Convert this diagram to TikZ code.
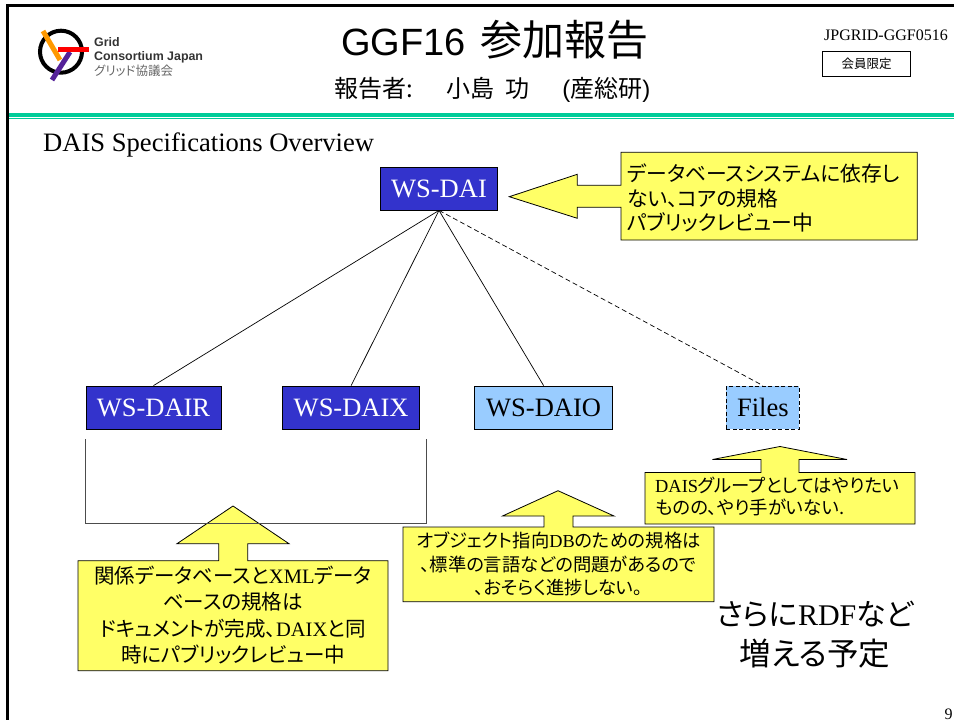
\documentclass[tikz,border=0pt]{standalone}
\usepackage{fontspec}
\setmainfont{Liberation Serif}
\newfontfamily\hel{Liberation Sans}
\newfontfamily\cjk[RawFeature=+palt]{Noto Sans CJK JP}
\usetikzlibrary{positioning}
\definecolor{darkblue}{HTML}{3333CC}
\definecolor{paleblue}{HTML}{99CCFF}
\definecolor{noteyellow}{HTML}{FFFF66}
\definecolor{rulegreen}{HTML}{00CC99}
\definecolor{logoorange}{HTML}{FF9900}
\definecolor{logopurple}{HTML}{552299}

\begin{document}
\begin{tikzpicture}[
    x=1pt, y=-1pt,
    align=center,
    spec/.style={rectangle, draw=black, line width=0.8pt, inner sep=0pt,
      minimum height=43pt, font=\fontsize{26.5}{30}\selectfont},
    daix/.style={spec, fill=darkblue, text=white},
    daio/.style={spec, fill=paleblue, text=black},
    dep/.style={black, line width=0.7pt},
    note/.style={draw=black, fill=noteyellow, line width=0.8pt, line join=miter},
    notetext/.style={inner sep=0pt, text=black}
  ]
  \useasboundingbox (0,0) rectangle (954,720);

  % frame and green rule

  \draw[black, line width=2.6pt] (7.5,720) -- (7.5,5.5) -- (954,5.5);
  \fill[rulegreen] (9,113.3) rectangle (954,117.3);
  \fill[rulegreen] (9,118.3) rectangle (954,119.1);

  % logo

  \draw[black, line width=4pt] (61,51.7) circle (21);
  \draw[logoorange, line width=5pt] (43,31) -- (60,60);
  \draw[logopurple, line width=5pt] (70,52) -- (52,80);
  \draw[red, line width=5pt] (58,49) -- (88.5,49);
  \node (logogrid) [anchor=west, inner sep=0pt, font=\hel\bfseries\fontsize{12.4}{14}\selectfont,
    text=black!80] at (94,42) {Grid};
  \node (logoname) [anchor=west, inner sep=0pt, font=\hel\bfseries\fontsize{12.4}{14}\selectfont,
    text=black!80] at (94,57) {Consortium Japan};
  \node (logojp)   [anchor=west, inner sep=0pt, font=\cjk\fontsize{12.5}{14}\selectfont,
    text=black!60] at (94,71) {グリッド協議会};

  % header texts

  \node (title)    [inner sep=0pt] at (495,40)
    {{\hel\fontsize{38}{40}\selectfont GGF16}\hspace{15pt}{\cjk\fontsize{42}{44}\selectfont 参加報告}};
  \node (reporter) [inner sep=0pt, font=\cjk\fontsize{24}{26}\selectfont] at (492.5,90)
    {報告者:\hspace{33pt}小島\hspace{11pt}功\hspace{33pt}{\hel (}産総研{\hel )}};
  \node (docid)    [inner sep=0pt, font=\fontsize{16}{18}\selectfont] at (886,35) {JPGRID-GGF0516};
  \node (members)  [draw=black, line width=0.8pt, minimum width=88.4pt, minimum height=24.6pt,
    inner sep=0pt, font=\cjk\fontsize{12.5}{14}\selectfont] at (866.5,64) {会員限定};
  \node (heading)  [anchor=west, inner sep=0pt, font=\fontsize{26.6}{30}\selectfont] at (43,145)
    {DAIS Specifications Overview};
  \node (pagenum)  [anchor=west, inner sep=0pt, font=\fontsize{16}{18}\selectfont] at (944.5,714) {9};

  % layout the spec boxes

  \node (wsdai)  [daix, minimum width=117.7pt]             at (439,188.5)  {WS-DAI};
  \node (wsdair) [daix, minimum width=135pt]               at (153.5,407.5) {WS-DAIR};
  \node (wsdaix) [daix, minimum width=136.7pt, right=61pt of wsdair]       {WS-DAIX};
  \node (wsdaio) [daio, minimum width=138pt,   right=54.3pt of wsdaix]     {WS-DAIO};
  \node (files)  [daio, minimum width=73pt, dash pattern=on 4pt off 2.5pt,
                  right=113pt of wsdaio]                                   {Files};

  \draw[dep] (wsdai.south) -- (wsdair.north);
  \draw[dep] (wsdai.south) -- (wsdaix.north);
  \draw[dep] (wsdai.south) -- (wsdaio.north);
  \draw[dep, dash pattern=on 5pt off 3pt] (wsdai.south) -- (files.north);

  % yellow notes with their arrows

  \draw[note] (621,152.3) -- (917.3,152.3) -- (917.3,240) -- (621,240) -- (621,207.3)
    -- (577.3,207.3) -- (577.3,218.3) -- (509.3,196.7) -- (577.3,174.3) -- (577.3,185.3)
    -- (621,185.3) -- cycle;
  \draw[note] (78,560.7) -- (218.7,560.7) -- (218.7,543.7) -- (177,543.7) -- (233,506)
    -- (289,543.7) -- (247.7,543.7) -- (247.7,560.7) -- (388,560.7) -- (388,670.7)
    -- (78,670.7) -- cycle;
  \draw[note] (403,527) -- (544,527) -- (544,516) -- (502.5,516) -- (558,490.7)
    -- (614,516) -- (573,516) -- (573,527) -- (714,527) -- (714,601.7) -- (403,601.7) -- cycle;
  \draw[note] (645,472.5) -- (761,472.5) -- (761,459.5) -- (712.5,459.5) -- (780,446.5)
    -- (847,459.5) -- (799,459.5) -- (799,472.5) -- (915,472.5) -- (915,524) -- (645,524) -- cycle;

  % bracket below the two dark boxes

  \draw[black!70, line width=0.8pt] (85.7,439) -- (85.7,523) -- (426,523) -- (426,439);

  % note texts

  \node (dainote) [notetext, anchor=west, align=left, font=\cjk\fontsize{20.8}{24.5}\selectfont]
    at (627,198) {データベースシステムに依存し\\ない、コアの規格\\パブリックレビュー中};
  \node (relnote) [notetext, font=\cjk\fontsize{20.5}{26.5}\selectfont] at (233,615)
    {関係データベースと{\rmfamily XML}データ\\ベースの規格は\\
     ドキュメントが完成、{\rmfamily DAIX}と同\\時にパブリックレビュー中};
  \node (objnote) [notetext, font=\cjk\fontsize{18.3}{23.5}\selectfont] at (558.5,564)
    {オブジェクト指向{\rmfamily DB}のための規格は\\、標準の言語などの問題があるので\\
     、おそらく進捗しない。};
  \node (filenote) [notetext, anchor=west, align=left, font=\cjk\fontsize{18.4}{21.5}\selectfont]
    at (655,496.5) {{\rmfamily DAIS}グループとしてはやりたい\\ものの、やり手がいない.};

  \node (morenote) [inner sep=0pt, font=\cjk\fontsize{30}{40}\selectfont] at (815,635)
    {さらに{\rmfamily RDF}など\\{\fontsize{31.5}{40}\selectfont 増える予定}};

\end{tikzpicture}
\end{document}
